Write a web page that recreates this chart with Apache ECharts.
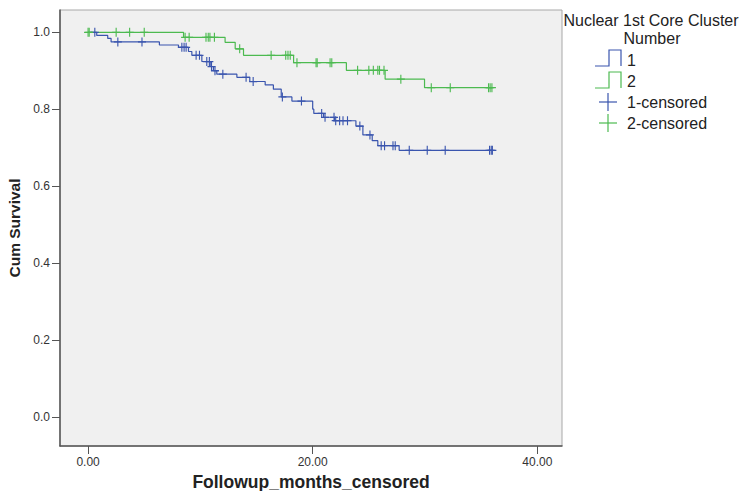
<!DOCTYPE html>
<html>
<head>
<meta charset="utf-8">
<script src="https://cdn.jsdelivr.net/npm/echarts@6/dist/echarts.min.js"></script>
<style>
html,body{margin:0;padding:0;background:#fff;}
#chart{width:743px;height:491px;}
</style>
</head>
<body>
<div id="chart"></div>
<script>
// ---- Data ----
// Group 1 (blue): event times and survival level after each step
const times1 = [0, 0.77, 1.75, 2.05, 6.35, 8.05, 8.94, 9.24, 10.13, 10.87, 11.16, 11.46, 13.25, 14.4, 15.77, 16.5, 17.2, 18.15, 20.0, 20.1, 20.97, 21.95, 23.85, 24.47, 25.3, 25.8, 27.7, 36.0];
const surv1  = [1.0, 0.992, 0.984, 0.975, 0.967, 0.961, 0.950, 0.940, 0.924, 0.911, 0.900, 0.891, 0.883, 0.872, 0.863, 0.852, 0.832, 0.821, 0.800, 0.789, 0.779, 0.770, 0.756, 0.733, 0.718, 0.705, 0.693, 0.693];
const censored1 = [0.6, 2.65, 4.8, 8.35, 8.55, 8.73, 9.62, 9.92, 10.57, 10.8, 10.99, 11.3, 12.0, 14.07, 14.7, 17.3, 19.0, 20.8, 21.1, 21.9, 22.05, 22.4, 22.7, 23.1, 24.2, 25.1, 26.1, 26.4, 27.15, 27.35, 28.6, 30.2, 31.8, 35.75, 35.9, 36.0];

// Group 2 (green)
const times2 = [0, 8.5, 12.2, 13.1, 13.84, 18.3, 23.0, 26.45, 29.96, 36.0];
const surv2  = [1.0, 0.987, 0.974, 0.957, 0.940, 0.921, 0.901, 0.878, 0.856, 0.856];
const censored2 = [0, 0.1, 2.5, 3.7, 5.0, 8.64, 9.0, 10.5, 10.7, 10.85, 11.25, 13.5, 16.3, 17.6, 17.8, 18.0, 18.6, 20.3, 20.4, 21.55, 21.7, 24.0, 25.0, 25.4, 25.8, 25.95, 26.35, 27.85, 30.56, 32.25, 35.66, 35.8, 35.96];

const xTicks = [0, 20, 40];
const yTicks = [0, 0.2, 0.4, 0.6, 0.8, 1.0];

const legendTitle = ['Nuclear 1st Core Cluster', 'Number'];
const groupNames = ['1', '2'];
const censorNames = ['1-censored', '2-censored'];

// ---- Styling ----
const BLUE = '#3a55ae';
const GREEN = '#4cba50';
const FONT = 'Liberation Sans, Arial, sans-serif';
const PLUS = 'path://M4.3,0H5.7V4.3H10V5.7H5.7V10H4.3V5.7H0V4.3H4.3Z';

function levelAt(times, surv, t) {
  let v = surv[0];
  for (let i = 0; i < times.length; i++) { if (times[i] <= t) v = surv[i]; }
  return v;
}
const line1 = times1.map((t, i) => [t, surv1[i]]);
const line2 = times2.map((t, i) => [t, surv2[i]]);
const cens1 = censored1.map(t => [t, levelAt(times1, surv1, t)]);
const cens2 = censored2.map(t => [t, levelAt(times2, surv2, t)]);

const chart = echarts.init(document.getElementById('chart'), null, {renderer: 'svg'});

const LT = {fontSize: 16, fontFamily: FONT, fill: '#222', verticalAlign: 'middle'};
const option = {
  animation: false,
  backgroundColor: '#ffffff',
  textStyle: {fontFamily: FONT},
  grid: {left: 60, right: 181, top: 10, bottom: 45, outerBoundsMode: 'none', containLabel: false,
         show: true, backgroundColor: '#f0f0f0', borderColor: '#a8a8a8', borderWidth: 1},
  xAxis: {
    type: 'value', min: -2.5, max: 42.2,
    name: 'Followup_months_censored', nameLocation: 'middle', nameGap: 27,
    nameTextStyle: {fontSize: 17.5, fontWeight: 'bold', color: '#222', fontFamily: FONT},
    axisLine: {show: true, onZero: false, lineStyle: {color: '#555', width: 1.5}},
    axisTick: {show: true, length: 8, customValues: xTicks, lineStyle: {color: '#555'}},
    axisLabel: {customValues: xTicks, formatter: v => v.toFixed(2), fontSize: 12, color: '#333', margin: 10, fontFamily: FONT},
    splitLine: {show: false}
  },
  yAxis: {
    type: 'value', min: -0.076, max: 1.058,
    name: 'Cum Survival', nameLocation: 'middle', nameGap: 35, nameRotate: 90,
    nameTextStyle: {fontSize: 15.5, fontWeight: 'bold', color: '#222', fontFamily: FONT},
    axisLine: {show: true, onZero: false, lineStyle: {color: '#555', width: 1.5}},
    axisTick: {show: true, length: 8, customValues: yTicks, lineStyle: {color: '#555'}},
    axisLabel: {customValues: yTicks, formatter: v => v.toFixed(1), fontSize: 12, color: '#333', margin: 10, fontFamily: FONT},
    splitLine: {show: false}
  },
  series: [
    {type: 'line', name: '1', data: line1, step: 'end', symbol: 'none', lineStyle: {color: BLUE, width: 1.2}, z: 2},
    {type: 'line', name: '2', data: line2, step: 'end', symbol: 'none', lineStyle: {color: GREEN, width: 1.2}, z: 2},
    {type: 'scatter', name: '1-censored', data: cens1, symbol: PLUS, symbolSize: [8, 9], itemStyle: {color: BLUE, opacity: 1}, z: 3},
    {type: 'scatter', name: '2-censored', data: cens2, symbol: PLUS, symbolSize: [8, 9], itemStyle: {color: GREEN, opacity: 1}, z: 3}
  ],
  graphic: [
    {type: 'text', x: 651, y: 20, style: Object.assign({}, LT, {text: legendTitle[0], align: 'center'})},
    {type: 'text', x: 652, y: 38, style: Object.assign({}, LT, {text: legendTitle[1], align: 'center'})},
    {type: 'polyline', shape: {points: [[595, 66], [609, 66], [609, 50], [621, 50], [621, 66]]}, style: {stroke: BLUE, lineWidth: 1.2, fill: null}},
    {type: 'text', x: 627, y: 60, style: Object.assign({}, LT, {text: groupNames[0]})},
    {type: 'polyline', shape: {points: [[595, 88], [609, 88], [609, 72], [621, 72], [621, 88]]}, style: {stroke: GREEN, lineWidth: 1.2, fill: null}},
    {type: 'text', x: 627, y: 81, style: Object.assign({}, LT, {text: groupNames[1]})},
    {type: 'line', shape: {x1: 599, y1: 102, x2: 617, y2: 102}, style: {stroke: BLUE, lineWidth: 1.2}},
    {type: 'line', shape: {x1: 608, y1: 93, x2: 608, y2: 111}, style: {stroke: BLUE, lineWidth: 1.2}},
    {type: 'text', x: 627, y: 102, style: Object.assign({}, LT, {text: censorNames[0]})},
    {type: 'line', shape: {x1: 599, y1: 123, x2: 617, y2: 123}, style: {stroke: GREEN, lineWidth: 1.2}},
    {type: 'line', shape: {x1: 608, y1: 114, x2: 608, y2: 132}, style: {stroke: GREEN, lineWidth: 1.2}},
    {type: 'text', x: 627, y: 123, style: Object.assign({}, LT, {text: censorNames[1]})}
  ]
};
chart.setOption(option);
</script>
</body>
</html>
